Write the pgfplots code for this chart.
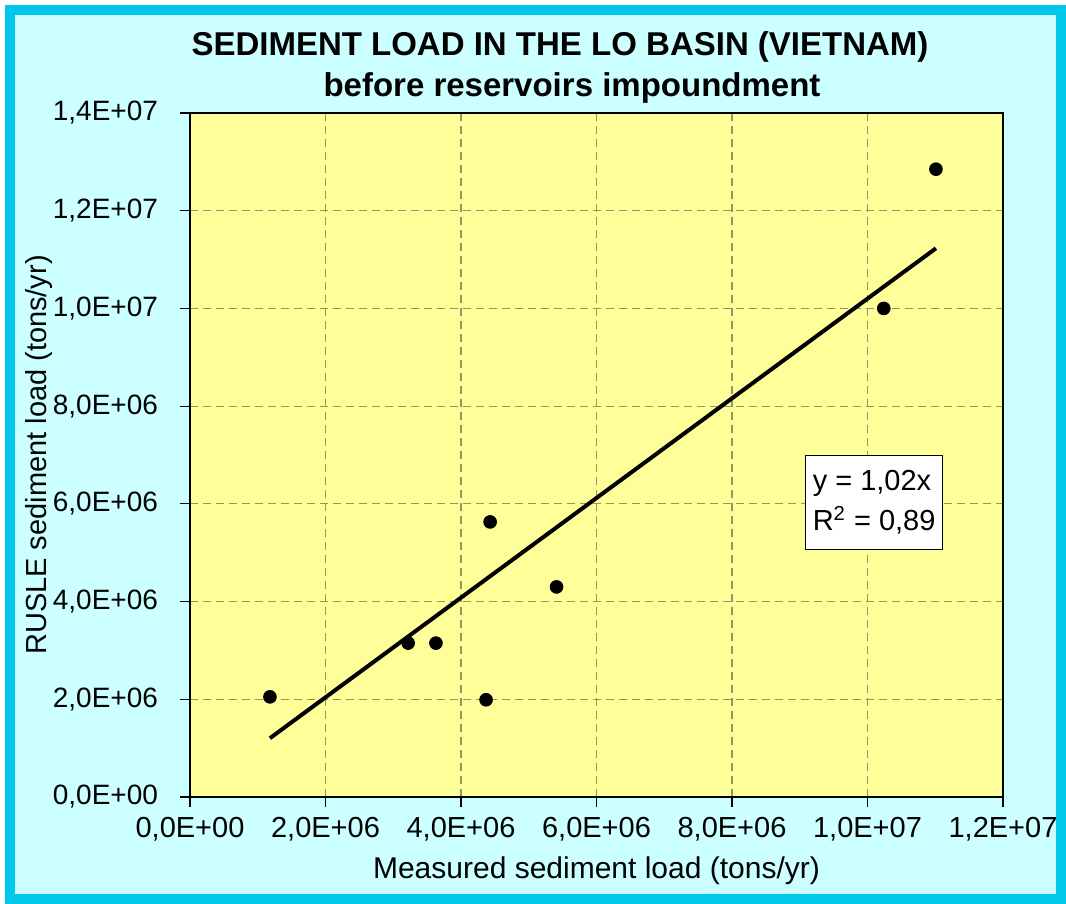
\documentclass[border=0pt]{standalone}
\usepackage{pgfplots}
\pgfplotsset{compat=1.18}
\usepackage{fontspec}
\setmainfont{Liberation Sans}
\definecolor{bgcyan}{RGB}{204,255,255}
\definecolor{bordercyan}{RGB}{0,200,235}
\definecolor{plotyellow}{RGB}{255,255,153}
\definecolor{gridcol}{RGB}{150,150,100}
\begin{document}
\begin{tikzpicture}
\fill[white] (0,0) rectangle (533pt,452pt);
\draw[bordercyan, line width=5pt, fill=bgcyan] (5pt,2.5pt) rectangle (530.5pt,447pt);
\begin{axis}[
  at={(95pt,53.5pt)}, anchor=south west,
  scale only axis, width=406.5pt, height=342pt,
  xmin=0, xmax=12000000, ymin=0, ymax=14000000,
  axis background/.style={fill=plotyellow},
  xtick={0,2000000,4000000,6000000,8000000,10000000,12000000},
  ytick={0,2000000,4000000,6000000,8000000,10000000,12000000,14000000},
  xticklabels={{0,0E+00},{2,0E+06},{4,0E+06},{6,0E+06},{8,0E+06},{1,0E+07},{1,2E+07}},
  yticklabels={{0,0E+00},{2,0E+06},{4,0E+06},{6,0E+06},{8,0E+06},{1,0E+07},{1,2E+07},{1,4E+07}},
  scaled ticks=false,
  grid=major,
  major grid style={gridcol, dash pattern=on 4pt off 2.5pt, line width=0.6pt},
  tick align=outside, major tick length=5pt, tick pos=left,
  tick style={black, line width=0.6pt},
  axis line style={black, line width=0.8pt},
  xticklabel style={font=\fontsize{14.5}{16}\selectfont, yshift=-1.5pt},
  yticklabel style={font=\fontsize{14}{16}\selectfont, xshift=-7.5pt},
  clip=false,
]
\addplot[only marks, mark=*, mark size=3.2pt, black] coordinates {
  (1180000,2050000) (3220000,3150000) (3630000,3150000) (4370000,1990000)
  (4430000,5630000) (5410000,4300000) (10240000,10000000) (11010000,12850000)
};
\addplot[black, line width=2pt, no marks] coordinates {(1180000,1203600) (11010000,11230200)};
\node[draw=black, fill=white, line width=0.6pt, anchor=north west, align=left,
      font=\fontsize{14.5}{20}\selectfont, inner xsep=3.5pt, inner ysep=4pt,
      minimum width=66.5pt, minimum height=47pt]
  at (axis cs:9080000,7000000) {y = 1,02x\\R\textsuperscript{2} = 0,89};
\end{axis}
\node[anchor=base, font=\fontsize{16.5}{20}\selectfont\bfseries] at (280pt,424pt) {SEDIMENT LOAD IN THE LO BASIN (VIETNAM)};
\node[anchor=base, font=\fontsize{16.5}{20}\selectfont\bfseries] at (286pt,403.5pt) {before reservoirs impoundment};
\node[anchor=base, font=\fontsize{15}{17}\selectfont] at (298.25pt,12.5pt) {Measured sediment load (tons/yr)};
\node[anchor=base, rotate=90, font=\fontsize{14.5}{17}\selectfont] at (23.5pt,224.5pt) {RUSLE sediment load (tons/yr)};
\pgfresetboundingbox
\path[use as bounding box] (0,0) rectangle (533pt,452pt);
\end{tikzpicture}
\end{document}
